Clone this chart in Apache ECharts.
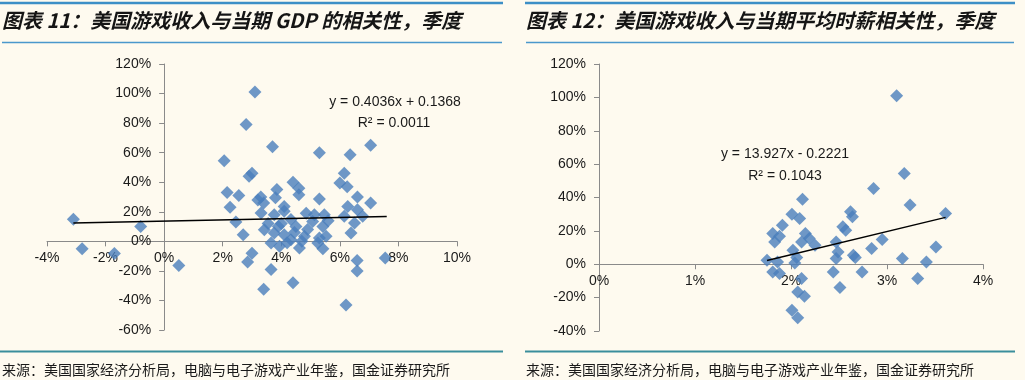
<!DOCTYPE html>
<html><head><meta charset="utf-8">
<script src="https://cdn.jsdelivr.net/npm/echarts@6/dist/echarts.min.js"></script>
<style>html,body{margin:0;padding:0;background:#fefaef;}#c{width:1025px;height:380px;}</style>
</head><body><div id="c"></div>
<script>
// Chart 1: GDP growth (%) vs game revenue growth (%)
const gdpPoints = [
  [-3.1,15],[-2.8,-5],[-1.7,-8.3],[-0.8,10],[0.5,-16.4],
  [3.1,101],[2.8,79],[2.05,54.5],[3.7,64],[3.0,46],[2.9,44],[2.15,33],[2.55,31],[2.25,23],[2.45,13],
  [2.7,4.5],[3.0,-8],[2.85,-14],[3.4,-32.5],[4.4,-28],[3.65,-19],
  [5.3,60],[6.35,58.6],[7.05,65],[4.4,40],[4.6,36],[6.15,46],[6.0,39.5],[6.25,37],[5.3,28.6],
  [6.6,30],[7.05,26],[4.6,31.5],[3.85,35],[3.8,29.5],[3.3,30],[3.4,26],[3.2,28],[4.1,23.6],
  [6.27,23.6],[6.6,21.4],[6.15,16.9],[6.5,12.4],[6.38,5.7],[6.78,16.9],[3.31,19.2],[3.76,18],
  [4.1,20.3],[4.33,14.7],[5.13,18],[5.47,18],[5.07,13.5],[5.42,10.1],[5.53,3.4],[5.3,2.3],
  [3.42,7.9],[3.76,5.7],[4.1,4.5],[4.5,10.1],[4.79,3.4],[4.33,1.1],[4.62,-4.5],[3.65,-1.1],
  [3.94,-3.4],[5.25,-1.1],[5.42,-5.1],[6.21,-43],[6.59,-13],[6.59,-20],[7.55,-11.3],
  [4.0,12],[4.9,8],[4.45,6],[3.9,10],[4.2,-1],[5.6,14],[4.85,19],[3.55,12],[4.7,0]
];
const gdpTrend = [[-3.1,12.4],[7.6,16.8]];
const gdpEquation = ['y = 0.4036x + 0.1368', 'R² = 0.0011'];
const gdpXTicks = {min:-4, max:10, interval:2};
const gdpYTicks = {min:-60, max:120, interval:20};

// Chart 2: hourly wage growth (%) vs game revenue growth (%)
const wagePoints = [
  [3.10,101],[3.18,54.4],[2.86,45.4],[2.12,39],[3.24,35.5],[3.61,30.4],[2.62,31.5],[2.64,28.4],
  [2.01,30],[2.09,27.4],[1.91,23.4],[2.54,22.4],[2.57,20.4],[1.81,18.4],[1.88,16.8],[1.83,13.4],
  [2.15,18.4],[2.19,15.4],[2.11,13.4],[2.25,11.4],[2.47,13.4],[2.95,14.8],[2.84,9.4],[3.51,10.4],
  [2.02,8.4],[2.49,7.4],[2.65,5.4],[2.67,4],[2.47,3.4],[2.06,4],[2.04,0.8],[1.75,2.4],[1.86,1.4],
  [3.16,3.4],[3.41,1.4],[1.81,-4.6],[1.88,-5.6],[2.11,-8.6],[2.44,-4.6],[2.74,-4.6],[3.32,-8.6],
  [2.51,-14],[2.07,-16.6],[2.14,-19.2],[2.01,-27.6],[2.07,-32]
];
const wageTrend = [[1.75,2.2],[3.61,28.1]];
const wageEquation = ['y = 13.927x - 0.2221', 'R² = 0.1043'];
const wageXTicks = {min:0, max:4, interval:1};
const wageYTicks = {min:-40, max:120, interval:20};

const titles = ['图表 11：美国游戏收入与当期 GDP 的相关性，季度', '图表 12：美国游戏收入与当期平均时薪相关性，季度'];
const sourceText = '来源：美国国家经济分析局，电脑与电子游戏产业年鉴，国金证券研究所';

const LAT = "'Liberation Sans', Arial, sans-serif";
const CJK = "'Noto Sans CJK SC', 'Liberation Sans', sans-serif";
const axisColor = '#8a8a8a';
const markerColor = '#4a7ebb';

const grids = [
  {left:47, top:64, width:410, height:266},
  {left:599, top:64, width:384, height:267}
];

// place each axis where the other axis is zero (scale-derived offset)
function xAx(idx, t, yt) {
  const off = -grids[idx].height * (0 - yt.min) / (yt.max - yt.min);
  return {gridIndex: idx, type:'value', min:t.min, max:t.max, interval:t.interval, position:'bottom', offset:off,
    axisLine:{onZero:false, lineStyle:{color:axisColor, width:1}},
    axisTick:{show:true, length:5, lineStyle:{color:axisColor}},
    axisLabel:{formatter:'{value}%', color:'#1a1a1a', fontSize:14, fontFamily:LAT, margin:10},
    splitLine:{show:false}};
}
function yAx(idx, t, xt) {
  const off = -grids[idx].width * (0 - xt.min) / (xt.max - xt.min);
  return {gridIndex: idx, type:'value', min:t.min, max:t.max, interval:t.interval, position:'left', offset:off,
    axisLine:{show:true, onZero:false, lineStyle:{color:axisColor, width:1}},
    axisTick:{show:true, length:5, lineStyle:{color:axisColor}},
    axisLabel:{formatter:'{value}%', color:'#1a1a1a', fontSize:14, fontFamily:LAT, margin:13},
    splitLine:{show:false}};
}
function hline(x1, x2, y, w, c) {
  return {type:'line', shape:{x1:x1, y1:y, x2:x2, y2:y}, style:{stroke:c, lineWidth:w}};
}
function ctext(x, y, s) {
  return {type:'text', x:x, y:y, style:{text:s, fill:'#1a1a1a', font:"14px "+LAT, textAlign:'center', textVerticalAlign:'middle'}};
}

const chart = echarts.init(document.getElementById('c'), null, {renderer:'canvas'});
chart.setOption({
  backgroundColor:'#fefaef',
  animation:false,
  grid:grids,
  xAxis:[xAx(0, gdpXTicks, gdpYTicks), xAx(1, wageXTicks, wageYTicks)],
  yAxis:[yAx(0, gdpYTicks, gdpXTicks), yAx(1, wageYTicks, wageXTicks)],
  series:[
    {type:'scatter', xAxisIndex:0, yAxisIndex:0, data:gdpPoints, symbol:'diamond', symbolSize:13, itemStyle:{color:markerColor}},
    {type:'line', xAxisIndex:0, yAxisIndex:0, data:gdpTrend, symbol:'none', lineStyle:{color:'#000', width:1.5}, z:3},
    {type:'scatter', xAxisIndex:1, yAxisIndex:1, data:wagePoints, symbol:'diamond', symbolSize:13, itemStyle:{color:markerColor}},
    {type:'line', xAxisIndex:1, yAxisIndex:1, data:wageTrend, symbol:'none', lineStyle:{color:'#000', width:1.5}, z:3}
  ],
  graphic:[
    hline(0, 503, 3, 2.5, '#3d8fc6'),
    hline(2, 502, 42.5, 1.5, '#4a98cc'),
    hline(525, 1015, 3, 2.5, '#3d8fc6'),
    hline(526, 1014, 42.5, 1.5, '#4a98cc'),
    {type:'text', left:2, top:10, style:{text:titles[0], fill:'#151515', font:"italic bold 20px "+CJK}},
    {type:'text', left:526, top:10, style:{text:titles[1], fill:'#151515', font:"italic bold 20px "+CJK}},
    hline(0, 503, 351.5, 2, '#3a8e9c'),
    hline(525, 1015, 351.5, 2, '#3a8e9c'),
    {type:'text', left:2, top:363, style:{text:sourceText, fill:'#1a1a1a', font:"14px "+CJK}},
    {type:'text', left:526, top:363, style:{text:sourceText, fill:'#1a1a1a', font:"14px "+CJK}},
    ctext(395, 102, gdpEquation[0]),
    ctext(394, 123, gdpEquation[1]),
    ctext(785, 154, wageEquation[0]),
    ctext(785, 176, wageEquation[1])
  ]
});
</script>
</body></html>
